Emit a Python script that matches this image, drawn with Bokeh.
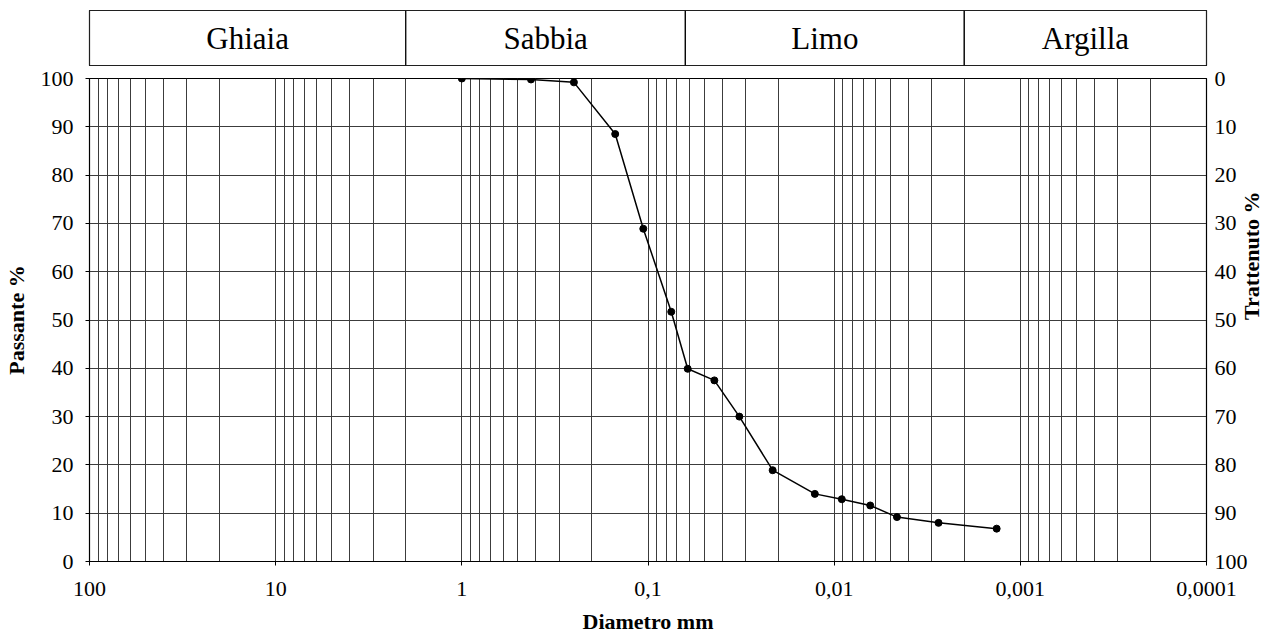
import math
from bokeh.plotting import figure
from bokeh.models import Range1d, LinearAxis, FixedTicker, CustomJSTickFormatter
from bokeh.layouts import column
from bokeh.embed import file_html
from bokeh.resources import INLINE
from bokeh.core.properties import value

# ---- data ----
diametro = [1.0, 0.425, 0.25, 0.15, 0.106, 0.075, 0.0612, 0.044, 0.0323,
            0.0214, 0.0127, 0.0091, 0.0064, 0.0046, 0.00275, 0.00134]
passante = [100.0, 99.8, 99.2, 88.5, 68.9, 51.7, 39.9, 37.5, 30.0,
            18.9, 14.0, 12.9, 11.6, 9.2, 8.0, 6.8]

classi = ["Ghiaia", "Sabbia", "Limo", "Argilla"]
limiti = [100, 2, 0.063, 0.002, 0.0001]

x_ticks = [100, 10, 1, 0.1, 0.01, 0.001, 0.0001]
y_ticks = list(range(0, 101, 10))
x_minor = [k * 10.0 ** e for e in range(-4, 2) for k in range(2, 10)]

FONT = "Liberation Serif"
W = 1282
GRID = "#3c3c3c"

xr = Range1d(100, 0.0001)

# ---- band with soil classes ----
band = figure(width=W, height=66, x_axis_type="log", x_range=xr,
              y_range=Range1d(0, 1), output_backend="svg",
              toolbar_location=None, min_border_left=88, min_border_right=76,
              min_border_top=10, min_border_bottom=1)
band.axis.visible = False
band.grid.visible = False
band.outline_line_color = "black"
band.outline_line_width = 1.2
band.quad(left=limiti[:-1], right=limiti[1:], bottom=0, top=1,
          fill_color="white", line_color="black", line_width=1.2)
centri = [math.sqrt(a * b) for a, b in zip(limiti[:-1], limiti[1:])]
band.text(x=centri, y=[0.5] * len(classi), text=classi,
          text_font=value(FONT), text_font_size="31px",
          text_align="center", text_baseline="middle", text_color="black")

# ---- main chart ----
p = figure(width=W, height=570, x_axis_type="log", x_range=xr,
           y_range=Range1d(0, 100), output_backend="svg",
           toolbar_location=None, min_border_left=88, min_border_right=76,
           min_border_top=12, min_border_bottom=74)
p.extra_y_ranges = {"tr": Range1d(100, 0)}

p.outline_line_color = "black"
p.outline_line_width = 1.2

p.xaxis.ticker = FixedTicker(ticks=x_ticks)
p.xaxis.formatter = CustomJSTickFormatter(code="return String(tick).replace('.', ',');")
p.yaxis.ticker = FixedTicker(ticks=y_ticks)

p.xgrid.ticker = FixedTicker(ticks=x_ticks, minor_ticks=x_minor)
p.xgrid.grid_line_color = GRID
p.xgrid.minor_grid_line_color = GRID
p.xgrid.grid_line_width = 1
p.xgrid.minor_grid_line_width = 1
p.ygrid.ticker = FixedTicker(ticks=y_ticks)
p.ygrid.grid_line_color = GRID
p.ygrid.grid_line_width = 1.2

left_ax = p.left[0]
left_ax.axis_label = "Passante %"
p.xaxis.axis_label = "Diametro mm"

right = LinearAxis(y_range_name="tr", ticker=FixedTicker(ticks=y_ticks),
                   axis_label="Trattenuto %")
p.add_layout(right, "right")
right.axis_label_orientation = math.pi / 2

for ax in p.axis:
    ax.axis_line_color = "black"
    ax.major_tick_line_color = "black"
    ax.minor_tick_line_color = None
    ax.major_tick_in = 0
    ax.major_tick_out = 4
    ax.major_label_text_font = FONT
    ax.major_label_text_font_size = "22px"
    ax.major_label_text_color = "black"
    ax.axis_label_text_font = FONT
    ax.axis_label_text_font_size = "22px"
    ax.axis_label_text_font_style = "bold"
    ax.axis_label_text_color = "black"

p.xaxis.major_label_standoff = 16
p.xaxis.axis_label_standoff = 10
left_ax.major_label_standoff = 12
left_ax.axis_label_standoff = 9
right.major_tick_out = 0
right.major_label_standoff = 8
right.axis_label_standoff = 1

p.line(diametro, passante, line_color="black", line_width=1.5)
p.scatter(diametro, passante, size=7, fill_color="black", line_color="black")

layout = column(band, p, spacing=0)
open("out.html", "w").write(file_html(layout, INLINE))
